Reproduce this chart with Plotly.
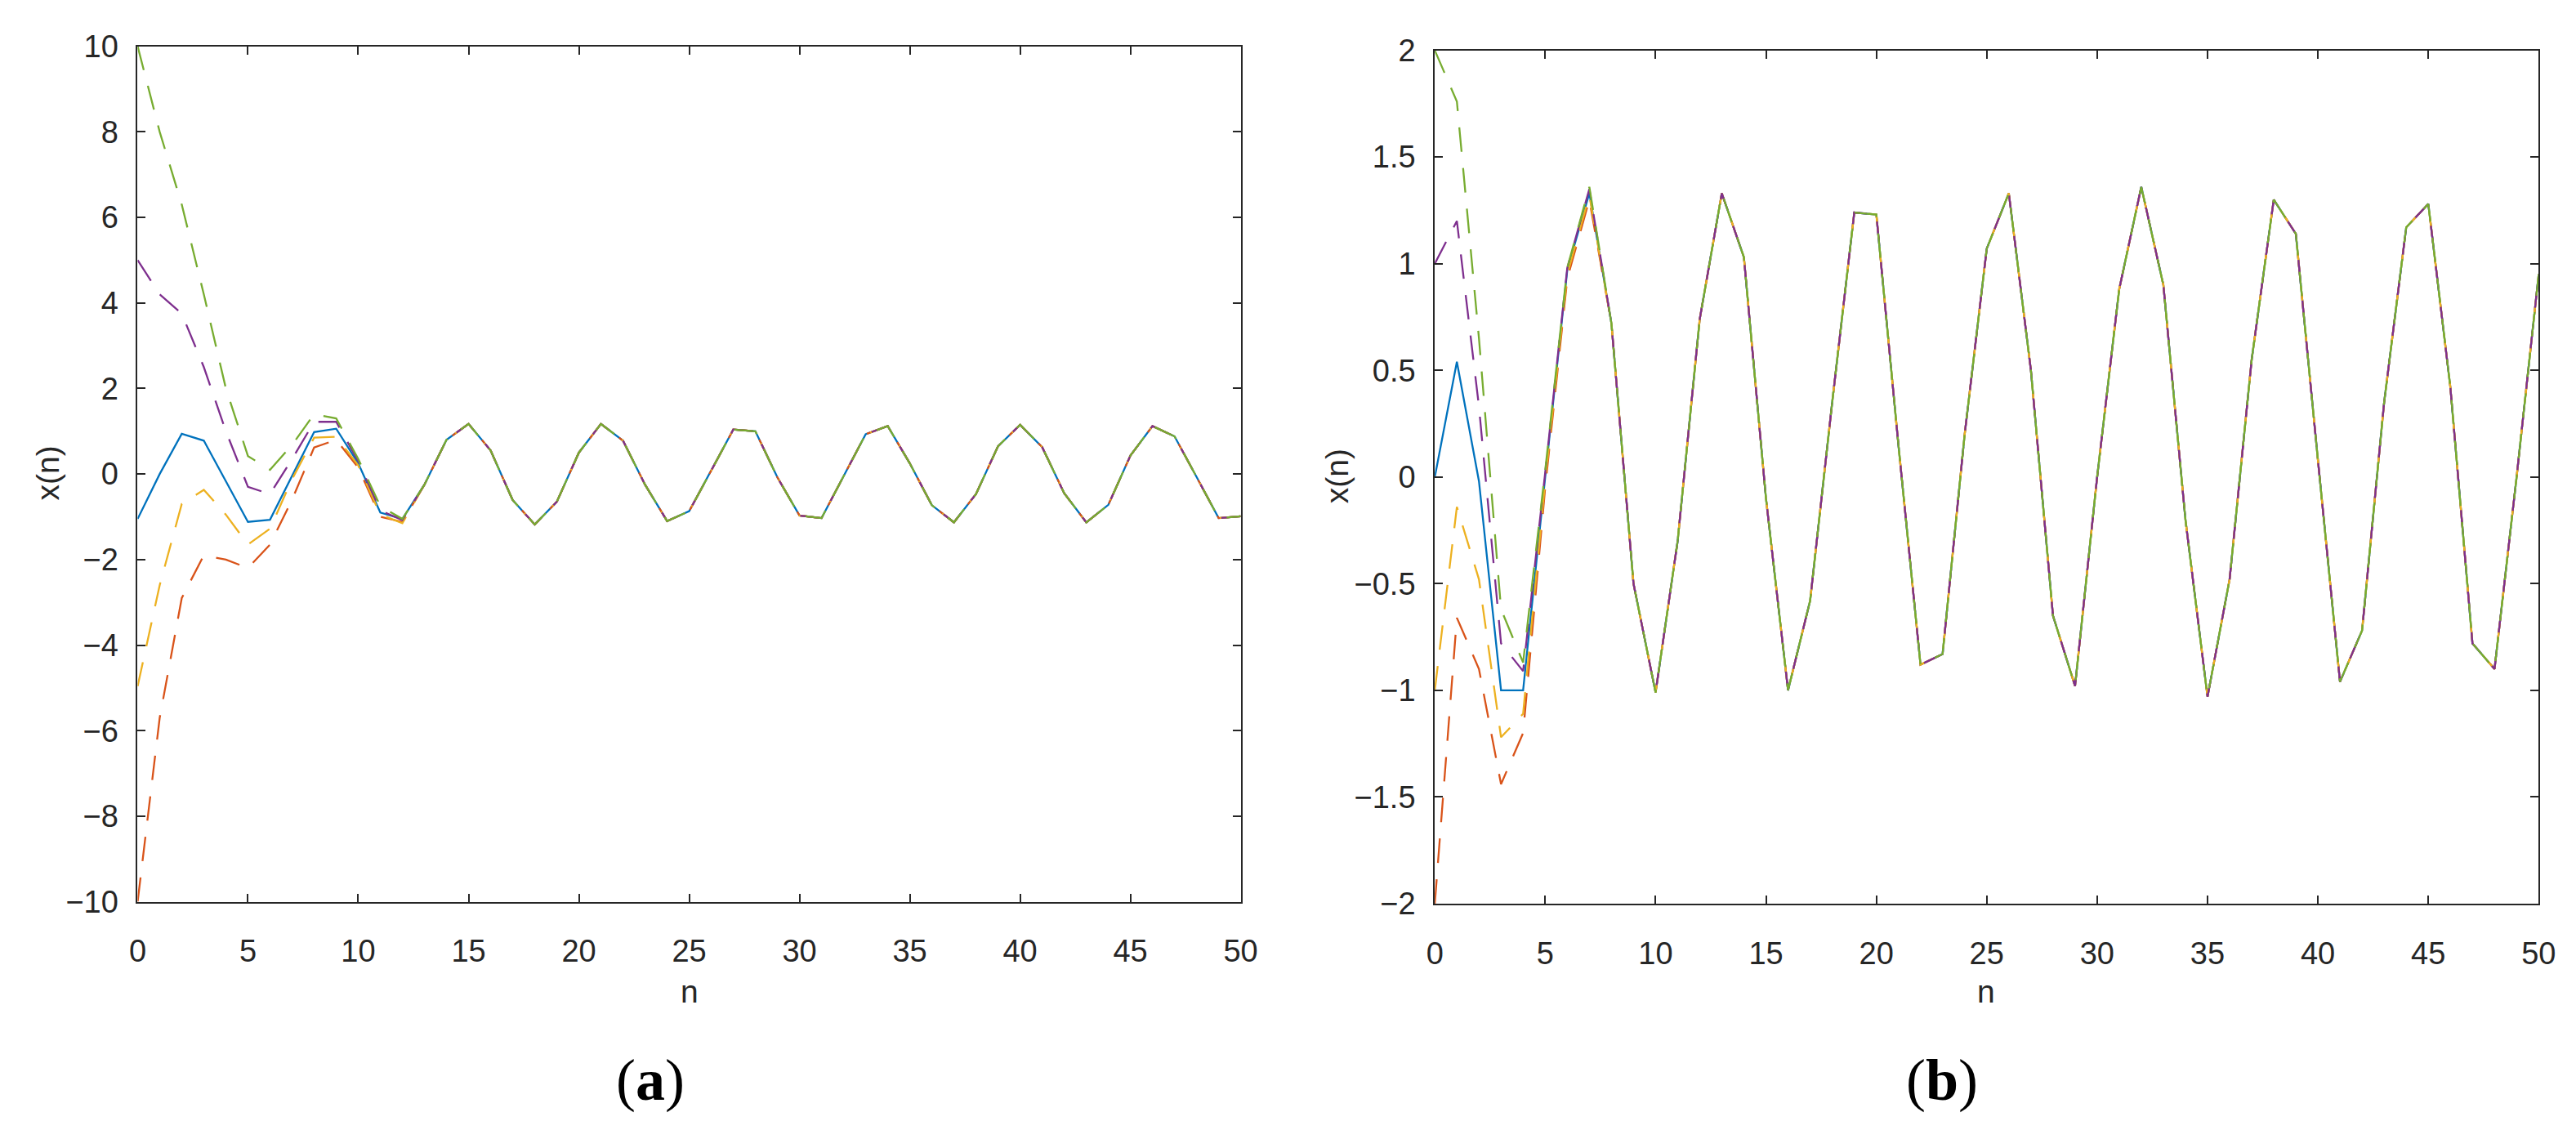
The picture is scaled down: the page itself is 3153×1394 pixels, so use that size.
import plotly.graph_objects as go

# time steps
n = list(range(51))

# panel (a): transient part n = 0..12, one list per initial value
blue_a_start = [-1.05, 0.0, 0.94, 0.78, -0.17, -1.12, -1.07, -0.05, 0.98, 1.06, 0.25, -0.9, -1.05]
red_a_start = [-10.0, -5.7, -2.9, -1.9, -2.0, -2.2, -1.65, -0.6, 0.62, 0.8, 0.15, -1.0, -1.12]
yellow_a_start = [-4.96, -2.6, -0.7, -0.37, -0.95, -1.65, -1.28, -0.12, 0.85, 0.87, 0.2, -0.95, -1.15]
purple_a_start = [5.0, 4.2, 3.75, 2.5, 1.0, -0.3, -0.47, 0.35, 1.22, 1.22, 0.3, -0.85, -1.08]
green_a_start = [10.0, 8.0, 6.3, 4.2, 2.0, 0.42, 0.1, 0.68, 1.4, 1.3, 0.35, -0.75, -1.05]

# panel (a): common oscillation n = 13..50
steady_a = [-0.25, 0.8, 1.17, 0.55, -0.61, -1.18, -0.65, 0.5, 1.17, 0.78,
            -0.25, -1.1, -0.87, 0.08, 1.04, 1.0, -0.08, -0.97, -1.03, -0.05,
            0.93, 1.12, 0.25, -0.73, -1.13, -0.47, 0.65, 1.15, 0.63, -0.45,
            -1.13, -0.72, 0.43, 1.12, 0.88, -0.07, -1.03, -0.99]

# panel (b): transient part n = 0..7
blue_b_start = [0.0, 0.54, -0.02, -1.0, -1.0, 0.0, 0.97, 1.33]
red_b_start = [-2.0, -0.66, -0.9, -1.44, -1.2, -0.05, 0.93, 1.30]
yellow_b_start = [-1.0, -0.14, -0.48, -1.22, -1.11, -0.02, 0.95, 1.32]
purple_b_start = [1.0, 1.2, 0.33, -0.78, -0.91, 0.02, 0.98, 1.35]
green_b_start = [2.0, 1.76, 0.65, -0.62, -0.87, 0.03, 0.98, 1.36]

# panel (b): common oscillation n = 8..50
steady_b = [0.72, -0.5, -1.01, -0.3, 0.74, 1.33, 1.03, -0.1, -1.0, -0.58,
            0.35, 1.24, 1.23, 0.15, -0.88, -0.83, 0.2, 1.07, 1.33, 0.5,
            -0.65, -0.98, 0.0, 0.88, 1.36, 0.9, -0.2, -1.03, -0.48, 0.55,
            1.30, 1.14, 0.08, -0.96, -0.72, 0.35, 1.17, 1.28, 0.42, -0.78,
            -0.9, 0.0, 0.95]

# MATLAB default colour order
colors = ["#0072BD", "#D95319", "#EDB120", "#7E2F8E", "#77AC30"]
dashes = ["solid", "30px,20px", "30px,20px", "30px,20px", "30px,20px"]

series_a = [blue_a_start, red_a_start, yellow_a_start, purple_a_start, green_a_start]
series_b = [blue_b_start, red_b_start, yellow_b_start, purple_b_start, green_b_start]

W, H = 3153, 1394
ink = "#262626"
sans = "Liberation Sans, Arial, Helvetica, sans-serif"

fig = go.Figure()

for start, col, dash in zip(series_a, colors, dashes):
    fig.add_trace(go.Scatter(x=n, y=start + steady_a, mode="lines",
                             line=dict(color=col, width=2.3, dash=dash),
                             xaxis="x", yaxis="y", showlegend=False, hoverinfo="skip"))

for start, col, dash in zip(series_b, colors, dashes):
    fig.add_trace(go.Scatter(x=n, y=start + steady_b, mode="lines",
                             line=dict(color=col, width=2.3, dash=dash),
                             xaxis="x2", yaxis="y2", showlegend=False, hoverinfo="skip"))

axis_style = dict(showline=True, linecolor=ink, linewidth=2, mirror="ticks",
                  ticks="inside", ticklen=10, tickwidth=2, tickcolor=ink,
                  showgrid=False, zeroline=False,
                  tickfont=dict(family=sans, size=38, color=ink))

# pixel boxes of the two axes
ax_a = (151, 1515, 28.5, 1108)
ax_b = (1755, 3120, 33.6, 1110.4)


def xdom(box):
    return [box[0] / W, box[1] / W]


def ydom(box):
    return [1 - box[3] / H, 1 - box[2] / H]


fig.update_layout(
    width=W, height=H, autosize=False,
    margin=dict(l=0, r=0, t=0, b=0),
    paper_bgcolor="white", plot_bgcolor="white",
    xaxis=dict(domain=xdom(ax_a), range=[0, 50], tick0=0, dtick=5, anchor="y",
               ticklabelstandoff=26, **axis_style),
    yaxis=dict(domain=ydom(ax_a), range=[-10, 10], tick0=0, dtick=2, anchor="x",
               ticklabelstandoff=14, **axis_style),
    xaxis2=dict(domain=xdom(ax_b), range=[0, 50], tick0=0, dtick=5, anchor="y2",
                ticklabelstandoff=26, **axis_style),
    yaxis2=dict(domain=ydom(ax_b), range=[-2, 2], tick0=0, dtick=0.5, anchor="x2",
                ticklabelstandoff=14, **axis_style),
)

labels = [
    ("x(n)", 40, 567, -90, sans, 39, ink),
    ("n", 833, 1221, 0, sans, 39, ink),
    ("x(n)", 1634, 571, -90, sans, 39, ink),
    ("n", 2437, 1221, 0, sans, 39, ink),
    ("(<b>a</b>)", 785, 1333, 0, "Liberation Serif, Times New Roman, serif", 72, "black"),
    ("(<b>b</b>)", 2382, 1333, 0, "Liberation Serif, Times New Roman, serif", 72, "black"),
]
for text, px, py, ang, fam, size, col in labels:
    fig.add_annotation(text=text, x=px / W, y=1 - py / H, xref="paper", yref="paper",
                       xanchor="center", yanchor="middle", showarrow=False,
                       textangle=ang, font=dict(family=fam, size=size, color=col))

fig.write_html("out.html")
